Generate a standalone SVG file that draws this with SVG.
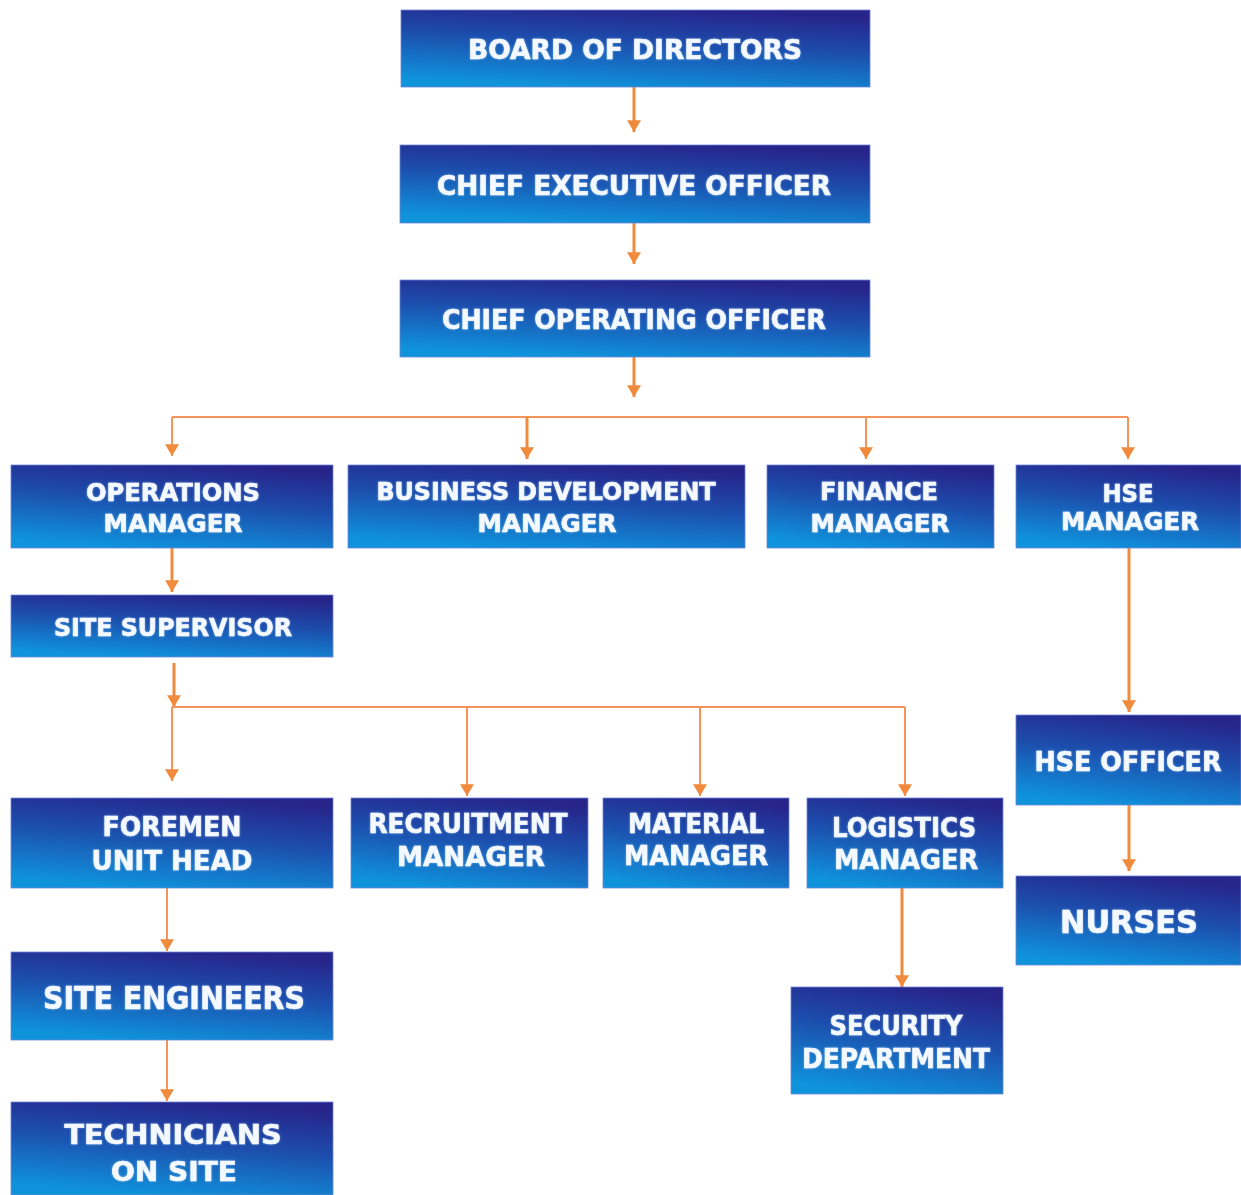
<svg xmlns="http://www.w3.org/2000/svg" width="1241" height="1195" viewBox="0 0 1241 1195">
<style>
.box{fill:url(#g);stroke:#6f86d6;stroke-width:0.8}
.t{font-family:"DejaVu Sans","Liberation Sans",sans-serif;font-weight:bold;fill:#f4f8ff;stroke:#f4f8ff;stroke-width:0.6;text-anchor:middle;font-size:24px;filter:url(#glow)}
.big{font-size:27px}
.xl{font-size:32px}
.c{fill:none;stroke:#f08a3c;stroke-width:3}
.thin{fill:none;stroke:#f3955a;stroke-width:2}
</style>
<defs>
<linearGradient id="g" x1="0.65" y1="0" x2="0.35" y2="1">
<stop offset="0" stop-color="#27248a"/>
<stop offset="0.45" stop-color="#1c4fae"/>
<stop offset="1" stop-color="#0f94dc"/>
</linearGradient>
<filter id="glow" x="-10%" y="-30%" width="120%" height="160%">
<feGaussianBlur in="SourceAlpha" stdDeviation="1.2" result="b"/>
<feFlood flood-color="#9fd4ff" flood-opacity="0.6"/>
<feComposite in2="b" operator="in" result="s"/>
<feMerge><feMergeNode in="s"/><feMergeNode in="SourceGraphic"/></feMerge>
</filter>
<marker id="a" viewBox="0 0 10 12" refX="10" refY="6" markerWidth="12" markerHeight="14" markerUnits="userSpaceOnUse" orient="auto">
<path d="M0,0 L10,6 L0,12 Z" fill="#f08a3c"/>
</marker>
</defs>

<g id="connectors">
<line class="c" x1="634" y1="87" x2="634" y2="132" marker-end="url(#a)"/>
<line class="c" x1="634" y1="223" x2="634" y2="264" marker-end="url(#a)"/>
<line class="c" x1="634" y1="357" x2="634" y2="397" marker-end="url(#a)"/>
<line class="thin" x1="172" y1="417" x2="1128" y2="417"/>
<line class="thin" x1="172" y1="417" x2="172" y2="456" marker-end="url(#a)"/>
<line class="c" x1="527" y1="417" x2="527" y2="459" marker-end="url(#a)"/>
<line class="thin" x1="866" y1="417" x2="866" y2="459" marker-end="url(#a)"/>
<line class="thin" x1="1128" y1="417" x2="1128" y2="459" marker-end="url(#a)"/>
<line class="c" x1="172" y1="548" x2="172" y2="592" marker-end="url(#a)"/>
<line class="c" x1="174" y1="663" x2="174" y2="707" marker-end="url(#a)"/>
<line class="thin" x1="172" y1="707" x2="905" y2="707"/>
<line class="thin" x1="172" y1="707" x2="172" y2="781" marker-end="url(#a)"/>
<line class="thin" x1="467" y1="707" x2="467" y2="796" marker-end="url(#a)"/>
<line class="thin" x1="700" y1="707" x2="700" y2="796" marker-end="url(#a)"/>
<line class="thin" x1="905" y1="707" x2="905" y2="796" marker-end="url(#a)"/>
<line class="c" x1="1129" y1="548" x2="1129" y2="712" marker-end="url(#a)"/>
<line class="c" x1="1129" y1="805" x2="1129" y2="871" marker-end="url(#a)"/>
<line class="thin" x1="167" y1="888" x2="167" y2="951" marker-end="url(#a)"/>
<line class="thin" x1="167" y1="1040" x2="167" y2="1101" marker-end="url(#a)"/>
<line class="c" x1="902" y1="888" x2="902" y2="987" marker-end="url(#a)"/>
</g>

<g id="n-board"><rect class="box" x="401" y="10" width="469" height="77"/><text class="t big" x="635" y="59" textLength="334" lengthAdjust="spacingAndGlyphs">BOARD OF DIRECTORS</text></g>
<g id="n-ceo"><rect class="box" x="400" y="145" width="470" height="78"/><text class="t big" x="634" y="195" textLength="394" lengthAdjust="spacingAndGlyphs">CHIEF EXECUTIVE OFFICER</text></g>
<g id="n-coo"><rect class="box" x="400" y="280" width="470" height="77"/><text class="t big" x="634" y="329" textLength="384" lengthAdjust="spacingAndGlyphs">CHIEF OPERATING OFFICER</text></g>

<g id="n-ops"><rect class="box" x="11" y="465" width="322" height="83"/><text class="t" x="173" y="501" textLength="174" lengthAdjust="spacingAndGlyphs">OPERATIONS</text><text class="t" x="173" y="532" textLength="139" lengthAdjust="spacingAndGlyphs">MANAGER</text></g>
<g id="n-bdm"><rect class="box" x="348" y="465" width="397" height="83"/><text class="t" x="546" y="500" textLength="339" lengthAdjust="spacingAndGlyphs">BUSINESS DEVELOPMENT</text><text class="t" x="547" y="532" textLength="139" lengthAdjust="spacingAndGlyphs">MANAGER</text></g>
<g id="n-fin"><rect class="box" x="767" y="465" width="227" height="83"/><text class="t" x="879" y="500" textLength="118" lengthAdjust="spacingAndGlyphs">FINANCE</text><text class="t" x="880" y="532" textLength="139" lengthAdjust="spacingAndGlyphs">MANAGER</text></g>
<g id="n-hsem"><rect class="box" x="1016" y="465" width="225" height="83"/><text class="t" x="1128" y="502" textLength="51" lengthAdjust="spacingAndGlyphs">HSE</text><text class="t" x="1130" y="530" textLength="138" lengthAdjust="spacingAndGlyphs">MANAGER</text></g>

<g id="n-site"><rect class="box" x="11" y="595" width="322" height="62"/><text class="t" x="173" y="636" textLength="238" lengthAdjust="spacingAndGlyphs">SITE SUPERVISOR</text></g>

<g id="n-foremen"><rect class="box" x="11" y="798" width="322" height="90"/><text class="t big" x="172" y="836" textLength="139" lengthAdjust="spacingAndGlyphs">FOREMEN</text><text class="t big" x="172" y="870" textLength="161" lengthAdjust="spacingAndGlyphs">UNIT HEAD</text></g>
<g id="n-recruit"><rect class="box" x="351" y="798" width="237" height="90"/><text class="t big" x="468" y="833" textLength="199" lengthAdjust="spacingAndGlyphs">RECRUITMENT</text><text class="t big" x="471" y="866" textLength="148" lengthAdjust="spacingAndGlyphs">MANAGER</text></g>
<g id="n-material"><rect class="box" x="603" y="798" width="186" height="90"/><text class="t big" x="696" y="833" textLength="136" lengthAdjust="spacingAndGlyphs">MATERIAL</text><text class="t big" x="696" y="865" textLength="144" lengthAdjust="spacingAndGlyphs">MANAGER</text></g>
<g id="n-logistics"><rect class="box" x="807" y="798" width="196" height="90"/><text class="t big" x="904" y="837" textLength="144" lengthAdjust="spacingAndGlyphs">LOGISTICS</text><text class="t big" x="906" y="869" textLength="144" lengthAdjust="spacingAndGlyphs">MANAGER</text></g>

<g id="n-hseo"><rect class="box" x="1016" y="715" width="225" height="90"/><text class="t big" x="1128" y="771" textLength="187" lengthAdjust="spacingAndGlyphs">HSE OFFICER</text></g>
<g id="n-nurses"><rect class="box" x="1016" y="876" width="225" height="89"/><text class="t xl" x="1129" y="933" textLength="138" lengthAdjust="spacingAndGlyphs">NURSES</text></g>

<g id="n-eng"><rect class="box" x="11" y="952" width="322" height="88"/><text class="t xl" x="174" y="1009" textLength="262" lengthAdjust="spacingAndGlyphs">SITE ENGINEERS</text></g>
<g id="n-tech"><rect class="box" x="11" y="1102" width="322" height="93"/><text class="t big" x="173" y="1144" textLength="217" lengthAdjust="spacingAndGlyphs">TECHNICIANS</text><text class="t big" x="174" y="1181" textLength="126" lengthAdjust="spacingAndGlyphs">ON SITE</text></g>

<g id="n-sec"><rect class="box" x="791" y="987" width="212" height="107"/><text class="t big" x="896" y="1035" textLength="133" lengthAdjust="spacingAndGlyphs">SECURITY</text><text class="t big" x="896" y="1068" textLength="188" lengthAdjust="spacingAndGlyphs">DEPARTMENT</text></g>
</svg>
